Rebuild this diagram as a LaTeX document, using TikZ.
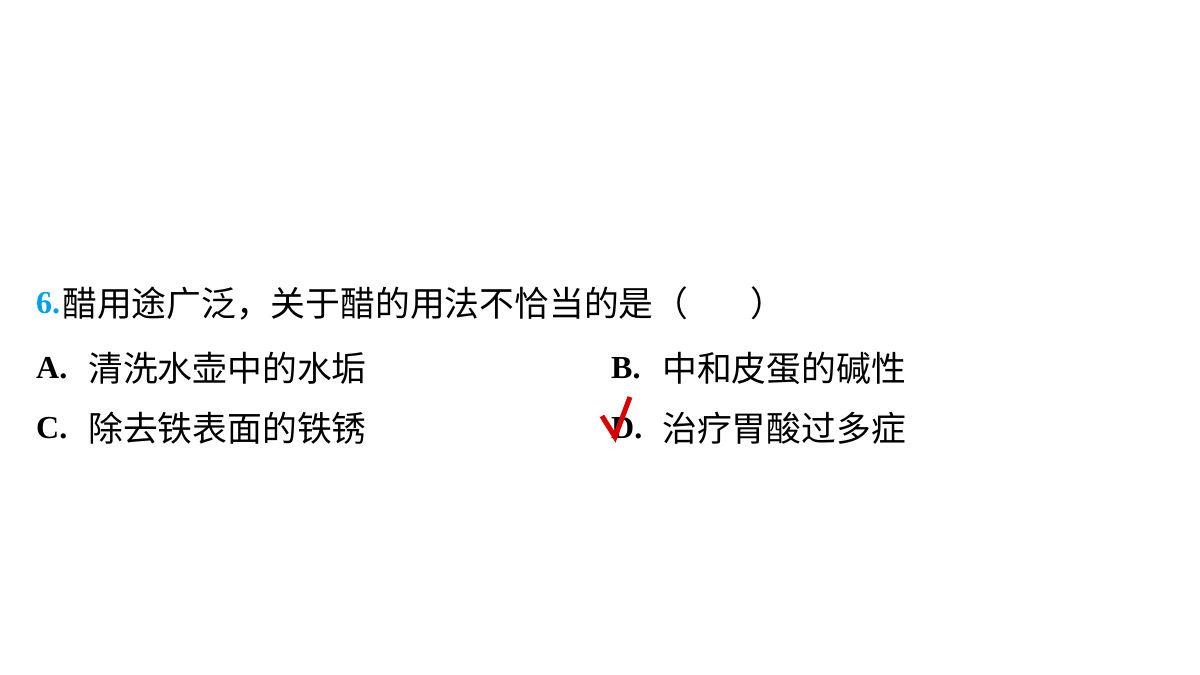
\documentclass[tikz,border=0pt]{standalone}
\usepackage{fontspec}
\setmainfont{Liberation Serif}
\newfontfamily\cjk{Noto Sans CJK SC}
\begin{document}
\begin{tikzpicture}[x=1pt,y=-1pt,
  lbl/.style={anchor=west,inner sep=0pt,font=\fontsize{32}{33}\selectfont\bfseries},
  txt/.style={anchor=west,inner sep=0pt,font=\fontsize{34.8}{36}\selectfont\cjk}]
\useasboundingbox (0,0) rectangle (1200,675);
\node[lbl,text={rgb,255:red,0;green,160;blue,233}] (n6) at (36,303) {6.};
\node[txt] (q) at (62,303) {醋用途广泛，关于醋的用法不恰当的是（\hspace{62pt}）};
\node[lbl] (a) at (36,368) {A.};
\node[txt] (at) at (88,368) {清洗水壶中的水垢};
\node[lbl] (b) at (611,368) {B.};
\node[txt] (bt) at (662,368) {中和皮蛋的碱性};
\node[lbl] (c) at (36,428) {C.};
\node[txt] (ct) at (88,428) {除去铁表面的铁锈};
\node[lbl] (d) at (611,428) {D.};
\node[txt] (dt) at (662,428) {治疗胃酸过多症};
\coordinate (k1) at (602,416);
\coordinate (k2) at (615,437);
\coordinate (k3) at (630,397);
\draw[red!85!black,line width=5pt] (k1) -- (k2) -- (k3);
\end{tikzpicture}
\end{document}
